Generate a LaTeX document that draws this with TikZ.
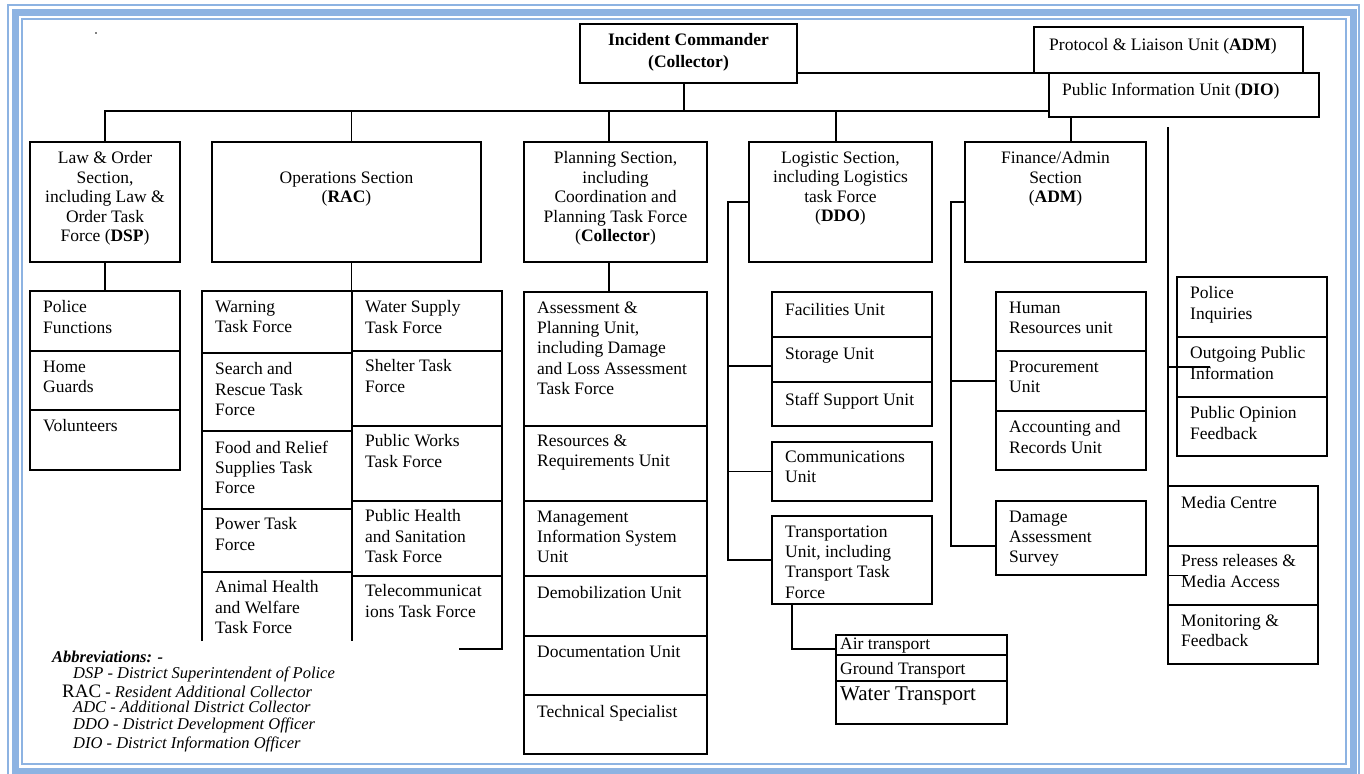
\documentclass[tikz,border=0pt]{standalone}
\usepackage{fontspec}
\setmainfont{Liberation Serif}
\definecolor{frameblue}{RGB}{141,179,226}
\tikzset{
  ubox/.style={draw=black, line width=1.2pt, fill=white, anchor=north west, inner sep=0pt, outer sep=0pt},
  obox/.style={draw=none, anchor=north west, inner sep=0pt, outer sep=0pt},
  utext/.style={anchor=north west, align=left, inner sep=0pt, font=\fontsize{17.5}{20.3}\selectfont},
  stext/.style={anchor=north, align=center, inner sep=0pt, font=\fontsize{17.5}{19.5}\selectfont},
  lbl/.style={anchor=base west, inner sep=0pt, font=\fontsize{17.5}{20}\selectfont},
  abbr/.style={anchor=base west, inner sep=0pt, font=\fontsize{16.5}{17}\selectfont\itshape},
  conn/.style={draw=black, line width=1.2pt},
  frameline/.style={draw=frameblue}
}
\newcommand\ubx[7][9.5]{%
  \node[ubox, minimum width=#5pt, minimum height=#6pt] (#2) at (#3,#4) {};
  \node[utext] (#2-t) at ([xshift=13pt,yshift=-#1pt]#2.north west) {#7};}
\newcommand\obx[7][9.5]{%
  \node[obox, minimum width=#5pt, minimum height=#6pt] (#2) at (#3,#4) {};
  \node[utext] (#2-t) at ([xshift=13pt,yshift=-#1pt]#2.north west) {#7};}
\begin{document}
\begin{tikzpicture}[x=1pt,y=-1pt]
\useasboundingbox (0,0) rectangle (1364,773);
\clip (0,0) rectangle (1364,773);
\fill[white] (0,0) rectangle (1364,773);
% frame
\draw[frameline, line width=2.5pt] (8,5) rectangle (1359,778);
\draw[frameline, line width=7pt] (15.5,13) rectangle (1353,771.5);
\draw[frameline, line width=2.5pt] (22,19) rectangle (1346,764);
\fill (96,33) circle (0.8);

% top level
\node[ubox, minimum width=217pt, minimum height=59pt] (ic) at (580,24) {};
\node[stext, font=\fontsize{17.5}{22}\selectfont\bfseries] (ic-t) at ([yshift=-9.5pt]ic.north) {Incident Commander\\(Collector)};
\node[ubox, minimum width=269pt, minimum height=46pt] (prot) at (1034,27) {};
\node[lbl] (prot-t) at ([xshift=15pt,yshift=-23.5pt]prot.north west) {Protocol \& Liaison Unit (\textbf{ADM})};
\node[ubox, minimum width=270pt, minimum height=44pt] (piu) at (1049,73) {};
\node[lbl] (piu-t) at ([xshift=13pt,yshift=-22.5pt]piu.north west) {Public Information Unit (\textbf{DIO})};

% sections
\node[ubox, minimum width=150pt, minimum height=120pt] (law) at (30,142) {};
\node[stext] (law-t) at ([yshift=-9.5pt]law.north) {Law \& Order\\Section,\\including Law \&\\Order Task\\Force (\textbf{DSP})};
\node[ubox, minimum width=269pt, minimum height=120pt] (ops) at (212,142) {};
\node[stext] (ops-t) at ([yshift=-29.5pt]ops.north) {Operations Section\\(\textbf{RAC})};
\node[ubox, minimum width=183pt, minimum height=120pt] (plan) at (524,142) {};
\node[stext] (plan-t) at ([yshift=-9.5pt]plan.north) {Planning Section,\\including\\Coordination and\\Planning Task Force\\(\textbf{Collector})};
\node[ubox, minimum width=183pt, minimum height=120pt] (log) at (749,142) {};
\node[stext] (log-t) at ([yshift=-9.5pt]log.north) {Logistic Section,\\including Logistics\\task Force\\(\textbf{DDO})};
\node[ubox, minimum width=181pt, minimum height=120pt] (fin) at (965,142) {};
\node[stext] (fin-t) at ([yshift=-9.5pt]fin.north) {Finance/Admin\\Section\\(\textbf{ADM})};

% law & order units
\ubx{police}{30}{291}{150}{60}{Police\\Functions}
\ubx{home}{30}{351}{150}{59}{Home\\Guards}
\ubx{vol}{30}{410}{150}{60}{Volunteers}

% operations units
\ubx{warn}{202}{291}{150}{62}{Warning\\Task Force}
\ubx{search}{202}{353}{150}{78}{Search and\\Rescue Task\\Force}
\ubx{food}{202}{431}{150}{78}{Food and Relief\\Supplies Task\\Force}
\ubx[8.5]{power}{202}{509}{150}{63}{Power Task\\Force}
\obx[8.5]{animal}{202}{572}{150}{69}{Animal Health\\and Welfare\\Task Force}
\ubx{water}{352}{291}{150}{60}{Water Supply\\Task Force}
\ubx[8.5]{shelter}{352}{351}{150}{75}{Shelter Task\\Force}
\ubx[8.5]{works}{352}{426}{150}{75}{Public Works\\Task Force}
\ubx[8.5]{health}{352}{501}{150}{75}{Public Health\\and Sanitation\\Task Force}
\obx[8.5]{telecom}{352}{576}{150}{73}{Telecommunicat\\ions Task Force}

% planning units
\ubx{asmt}{524}{292}{183}{134}{Assessment \&\\Planning Unit,\\including Damage\\and Loss Assessment\\Task Force}
\ubx[8.5]{res}{524}{426}{183}{75}{Resources \&\\Requirements Unit}
\ubx{mis}{524}{501}{183}{75}{Management\\Information System\\Unit}
\ubx[10.5]{demob}{524}{576}{183}{60}{Demobilization Unit}
\ubx{doc}{524}{636}{183}{59}{Documentation Unit}
\ubx[10.5]{tech}{524}{695}{183}{59}{Technical Specialist}

% logistics units
\ubx[11.5]{fac}{772}{292}{160}{45}{Facilities Unit}
\ubx[10.5]{sto}{772}{337}{160}{45}{Storage Unit}
\ubx[10.5]{staff}{772}{382}{160}{44}{Staff Support Unit}
\ubx[8.5]{comm}{772}{442}{160}{59}{Communications\\Unit}
\ubx{trans}{772}{516}{160}{88}{Transportation\\Unit, including\\Transport Task\\Force}
\node[ubox, minimum width=171pt, minimum height=20pt] (air) at (836,635) {};
\node[lbl] (air-t) at ([xshift=4pt,yshift=-14.5pt]air.north west) {Air transport};
\node[ubox, minimum width=171pt, minimum height=26pt] (ground) at (836,655) {};
\node[lbl] (ground-t) at ([xshift=4pt,yshift=-19.5pt]ground.north west) {Ground Transport};
\node[ubox, minimum width=171pt, minimum height=43pt] (wtr) at (836,681) {};
\node[lbl, font=\fontsize{21}{24}\selectfont] (wtr-t) at ([xshift=4pt,yshift=-19.5pt]wtr.north west) {Water Transport};

% finance units
\ubx{hr}{996}{292}{150}{59}{Human\\Resources unit}
\ubx{proc}{996}{351}{150}{60}{Procurement\\Unit}
\ubx{acct}{996}{411}{150}{59}{Accounting and\\Records Unit}
\ubx{dmg}{996}{501}{150}{74}{Damage\\Assessment\\Survey}

% public information units
\ubx{pol}{1177}{277}{150}{60}{Police\\Inquiries}
\ubx{out}{1177}{337}{150}{60}{Outgoing Public\\Information}
\ubx{opin}{1177}{397}{150}{59}{Public Opinion\\Feedback}
\ubx[10.5]{media}{1168}{486}{150}{60}{Media Centre}
\ubx[8.5]{press}{1168}{546}{150}{59}{Press releases \&\\Media Access}
\ubx{mon}{1168}{605}{150}{59}{Monitoring \&\\Feedback}

% connectors
\coordinate (bus) at (0,111);
\draw[conn] ([xshift=-4.5pt]ic.south) -- ([xshift=-4.5pt]ic.south |- bus);
\draw[conn] (law.north) |- (piu.west |- bus);
\draw[conn] ([xshift=5pt]ops.north) -- ([xshift=5pt]ops.north |- bus);
\draw[conn] ([xshift=-6.5pt]plan.north) -- ([xshift=-6.5pt]plan.north |- bus);
\draw[conn] ([xshift=-4.5pt]log.north) -- ([xshift=-4.5pt]log.north |- bus);
\draw[conn] ([xshift=15.5pt]fin.north) -- ([xshift=15.5pt]fin.north |- piu.south);
\draw[conn] (ic.east |- prot.south) -- (prot.south west);

\draw[conn] (law.south) -- (police.north);
\draw[conn] ([xshift=5pt]ops.south) -- ([xshift=5pt]ops.south |- warn.north);
\draw[conn] ([xshift=-6.5pt]plan.south) -- ([xshift=-6.5pt]plan.south |- asmt.north);

\draw[conn] (animal.south west) -- (animal.north west) -- (animal.north east) -- (animal.south east);
\draw[conn] (telecom.north east) -- (telecom.south east) -- ([xshift=-43pt]telecom.south east);

\coordinate (lx) at (728,0);
\draw[conn] (log.west) -- (log.west -| lx) |- (trans.west);
\draw[conn] ([yshift=-6.5pt]sto.west) -- ([yshift=-6.5pt]sto.west -| lx);
\draw[conn] (comm.west) -- (comm.west -| lx);
\draw[conn] ([xshift=-60pt]trans.south) |- ([yshift=-4pt]air.west);

\coordinate (fx) at (951,0);
\draw[conn] (fin.west) -- (fin.west -| fx) |- ([yshift=-8pt]dmg.west);
\draw[conn] (proc.west) -- (proc.west -| fx);

\coordinate (rtop) at (1168,127);
\draw[conn] (rtop) -- (media.north west);
\draw[conn] (out.west -| rtop) -- ([xshift=33pt]out.west);
\draw[conn] (press.west) -- ([xshift=20pt]press.west);

% abbreviations
\node[abbr, font=\fontsize{16.5}{17}\selectfont\bfseries\itshape] (ab0) at (52,662) {Abbreviations: -};
\node[abbr] (ab1) at (73,678) {DSP - District Superintendent of Police};
\node[abbr] (ab2) at (62,697) {{\upshape\fontsize{19}{19}\selectfont RAC} - Resident Additional Collector};
\node[abbr] (ab3) at (73,712) {ADC - Additional District Collector};
\node[abbr] (ab4) at (73,729) {DDO - District Development Officer};
\node[abbr] (ab5) at (73,748) {DIO - District Information Officer};
\end{tikzpicture}
\end{document}
